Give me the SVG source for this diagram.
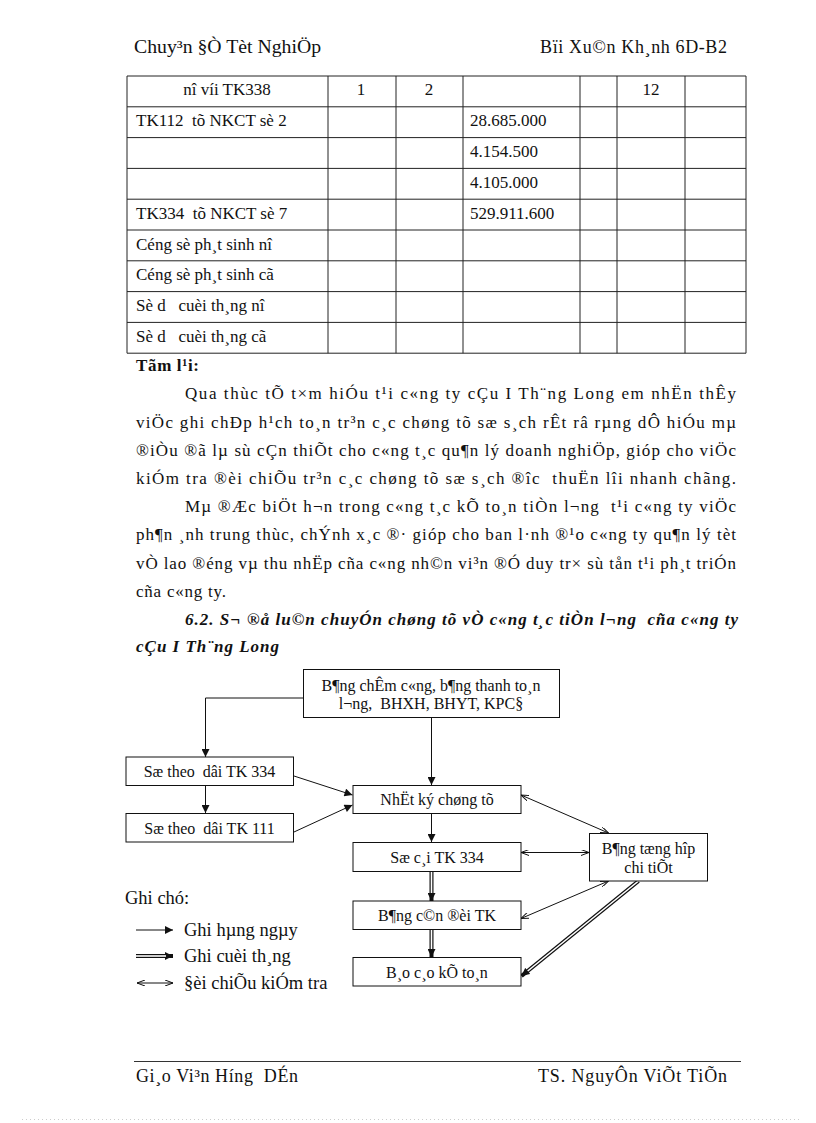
<svg xmlns="http://www.w3.org/2000/svg" width="816" height="1123" viewBox="0 0 816 1123">
<style>
text{font-family:"Liberation Serif","Times New Roman",serif;fill:#111}
.b{font-size:17px}
.h{font-size:18px}
.t{font-size:17px}
.d{font-size:16px}
.lg{font-size:18.5px}
.c{text-anchor:middle}
.bold{font-weight:bold}
.bi{font-weight:bold;font-style:italic}
.grid line{stroke:#222;stroke-width:1}
.box{fill:#fff;stroke:#111;stroke-width:1}
.ln{stroke:#111;stroke-width:1;fill:none}
.dbl{stroke:#111;stroke-width:4;fill:none}
.dbw{stroke:#fff;stroke-width:1.6;fill:none}
</style>
<defs>
<marker id="arr" markerUnits="userSpaceOnUse" viewBox="0 0 10 10" refX="10" refY="5" markerWidth="9" markerHeight="8" orient="auto"><path d="M0,0 L10,5 L0,10 z" fill="#111"/></marker>
<marker id="opn" markerUnits="userSpaceOnUse" viewBox="0 0 8 6" refX="8" refY="3" markerWidth="8" markerHeight="6" orient="auto-start-reverse"><path d="M0,0 L8,3 L0,6" fill="none" stroke="#111" stroke-width="1"/></marker>
</defs>
<rect width="816" height="1123" fill="#fff"/>

<g id="header">
<text class="h" x="134" y="53" textLength="187" lengthAdjust="spacingAndGlyphs">Chuy³n §Ò Tèt NghiÖp</text>
<text class="h" x="540" y="53" textLength="187" lengthAdjust="spacing">Bïi Xu©n Kh¸nh 6D-B2</text>
</g>

<g id="table">
<g class="grid">
<line x1="127" y1="76" x2="746" y2="76"/>
<line x1="127" y1="106.8" x2="746" y2="106.8"/>
<line x1="127" y1="137.6" x2="746" y2="137.6"/>
<line x1="127" y1="168.4" x2="746" y2="168.4"/>
<line x1="127" y1="199.2" x2="746" y2="199.2"/>
<line x1="127" y1="230" x2="746" y2="230"/>
<line x1="127" y1="260.8" x2="746" y2="260.8"/>
<line x1="127" y1="291.6" x2="746" y2="291.6"/>
<line x1="127" y1="322.4" x2="746" y2="322.4"/>
<line x1="127" y1="353.2" x2="746" y2="353.2"/>
<line x1="127" y1="76" x2="127" y2="353.2"/>
<line x1="328" y1="76" x2="328" y2="353.2"/>
<line x1="396" y1="76" x2="396" y2="353.2"/>
<line x1="463" y1="76" x2="463" y2="353.2"/>
<line x1="580" y1="76" x2="580" y2="353.2"/>
<line x1="617" y1="76" x2="617" y2="353.2"/>
<line x1="685" y1="76" x2="685" y2="353.2"/>
<line x1="746" y1="76" x2="746" y2="353.2"/>
</g>
<text class="t c" x="227" y="95">nî víi TK338</text>
<text class="t c" x="361" y="95">1</text>
<text class="t c" x="429" y="95">2</text>
<text class="t c" x="651" y="95">12</text>
<text class="t" x="136" y="126" xml:space="preserve">TK112  tõ NKCT sè 2</text>
<text class="t" x="470" y="126">28.685.000</text>
<text class="t" x="470" y="157">4.154.500</text>
<text class="t" x="470" y="188">4.105.000</text>
<text class="t" x="136" y="218.5" xml:space="preserve">TK334  tõ NKCT sè 7</text>
<text class="t" x="470" y="218.5">529.911.600</text>
<text class="t" x="136" y="249.5">Céng sè ph¸t sinh nî</text>
<text class="t" x="136" y="280">Céng sè ph¸t sinh cã</text>
<text class="t" x="136" y="311" xml:space="preserve">Sè d   cuèi th¸ng nî</text>
<text class="t" x="136" y="342" xml:space="preserve">Sè d   cuèi th¸ng cã</text>
</g>

<g id="summary">
<text class="b bold" x="136" y="371" textLength="63" lengthAdjust="spacing">Tãm l¹i:</text>
<text class="b" x="185" y="399" textLength="551" lengthAdjust="spacing">Qua thùc tÕ t×m hiÓu t¹i c«ng ty cÇu I Th¨ng Long em nhËn thÊy</text>
<text class="b" x="136" y="427.5" textLength="600" lengthAdjust="spacing">viÖc ghi chÐp h¹ch to¸n tr³n c¸c chøng tõ sæ s¸ch rÊt râ rµng dÔ hiÓu mµ</text>
<text class="b" x="136" y="455.5" textLength="600" lengthAdjust="spacing">®iÒu ®ã lµ sù cÇn thiÕt cho c«ng t¸c qu¶n lý doanh nghiÖp, gióp cho viÖc</text>
<text class="b" x="136" y="484" textLength="600" lengthAdjust="spacing" xml:space="preserve">kiÓm tra ®èi chiÕu tr³n c¸c chøng tõ sæ s¸ch ®îc  thuËn lîi nhanh chãng.</text>
<text class="b" x="185" y="512" textLength="551" lengthAdjust="spacing" xml:space="preserve">Mµ ®Æc biÖt h¬n trong c«ng t¸c kÕ to¸n tiÒn l¬ng  t¹i c«ng ty viÖc</text>
<text class="b" x="136" y="540" textLength="600" lengthAdjust="spacing">ph¶n ¸nh trung thùc, chÝnh x¸c ®· gióp cho ban l·nh ®¹o c«ng ty qu¶n lý tèt</text>
<text class="b" x="136" y="568.5" textLength="600" lengthAdjust="spacing">vÒ lao ®éng vµ thu nhËp cña c«ng nh©n vi³n ®Ó duy tr× sù tån t¹i ph¸t triÓn</text>
<text class="b" x="136" y="596.5" textLength="90" lengthAdjust="spacing">cña c«ng ty.</text>
</g>

<g id="heading">
<text class="b bi" x="185" y="625" textLength="553" lengthAdjust="spacing" xml:space="preserve">6.2. S¬ ®å lu©n chuyÓn chøng tõ vÒ c«ng t¸c tiÒn l¬ng  cña c«ng ty</text>
<text class="b bi" x="136" y="652" textLength="143" lengthAdjust="spacing">cÇu I Th¨ng Long</text>
</g>

<g id="connectors">
<polyline class="ln" points="303,698 205.5,698 205.5,757" marker-end="url(#arr)"/>
<line class="ln" x1="431.5" y1="717" x2="431.5" y2="785" marker-end="url(#arr)"/>
<line class="ln" x1="205.5" y1="785" x2="205.5" y2="813" marker-end="url(#arr)"/>
<line class="ln" x1="294" y1="776" x2="352.5" y2="795" marker-end="url(#arr)"/>
<line class="ln" x1="294" y1="832" x2="352.5" y2="805" marker-end="url(#arr)"/>
<line class="ln" x1="431.5" y1="813" x2="431.5" y2="842" marker-end="url(#arr)"/>
<line class="dbl" x1="431.5" y1="872" x2="431.5" y2="901" marker-end="url(#arr)"/>
<line class="dbw" x1="431.5" y1="872" x2="431.5" y2="893"/>
<line class="dbl" x1="431.5" y1="929" x2="431.5" y2="957" marker-end="url(#arr)"/>
<line class="dbw" x1="431.5" y1="929" x2="431.5" y2="949"/>
<line class="ln" x1="521" y1="795" x2="608.5" y2="833" marker-start="url(#opn)" marker-end="url(#opn)"/>
<line class="ln" x1="521" y1="852.5" x2="589" y2="852.5" marker-start="url(#opn)" marker-end="url(#opn)"/>
<line class="ln" x1="608.5" y1="881" x2="521" y2="918.5" marker-start="url(#opn)" marker-end="url(#opn)"/>
<line class="dbl" x1="638.5" y1="881" x2="521.5" y2="976" marker-end="url(#arr)"/>
<line class="dbw" x1="638.5" y1="881" x2="527.7" y2="971"/>
</g>

<g id="n-top"><rect class="box" x="303.5" y="669.5" width="256" height="48"/>
<text class="d c" x="431" y="690.5">B¶ng chÊm c«ng, b¶ng thanh to¸n</text>
<text class="d c" x="431" y="708.5" xml:space="preserve">l¬ng,  BHXH, BHYT, KPC§</text></g>
<g id="n-334"><rect class="box" x="126" y="757" width="167.5" height="28.5"/>
<text class="d c" x="209.5" y="776.5" xml:space="preserve">Sæ theo  dâi TK 334</text></g>
<g id="n-111"><rect class="box" x="126" y="813.5" width="167.5" height="28.5"/>
<text class="d c" x="209.5" y="833.5" xml:space="preserve">Sæ theo  dâi TK 111</text></g>
<g id="n-nkct"><rect class="box" x="353" y="785.5" width="168" height="28"/>
<text class="d c" x="437" y="805">NhËt ký chøng tõ</text></g>
<g id="n-socai"><rect class="box" x="353" y="842.5" width="168" height="29"/>
<text class="d c" x="437" y="862.5">Sæ c¸i TK 334</text></g>
<g id="n-cdtk"><rect class="box" x="353" y="901" width="168" height="28.5"/>
<text class="d c" x="437" y="920.5">B¶ng c©n ®èi TK</text></g>
<g id="n-bckt"><rect class="box" x="353" y="957.5" width="168" height="28.5"/>
<text class="d c" x="437" y="977.5">B¸o c¸o kÕ to¸n</text></g>
<g id="n-thct"><rect class="box" x="589.5" y="833.5" width="118" height="47.5"/>
<text class="d c" x="648.5" y="853.5">B¶ng tæng hîp</text>
<text class="d c" x="648.5" y="872.5">chi tiÕt</text></g>

<g id="legend">
<text class="lg" x="125" y="904">Ghi chó:</text>
<line class="ln" x1="136" y1="930" x2="173" y2="930" marker-end="url(#arr)"/>
<text class="lg" x="184" y="935.5">Ghi hµng ngµy</text>
<line class="dbl" x1="136" y1="956" x2="173" y2="956" marker-end="url(#arr)"/>
<line class="dbw" x1="136" y1="956" x2="166" y2="956"/>
<text class="lg" x="184" y="962">Ghi cuèi th¸ng</text>
<line class="ln" x1="137" y1="983" x2="173" y2="983" marker-start="url(#opn)" marker-end="url(#opn)"/>
<text class="lg" x="184" y="988.5">§èi chiÕu kiÓm tra</text>
</g>

<g id="footer">
<line x1="134" y1="1061.5" x2="741" y2="1061.5" stroke="#333" stroke-width="1"/>
<text class="h" x="136" y="1082" xml:space="preserve" textLength="162" lengthAdjust="spacing">Gi¸o Vi³n Híng  DÉn</text>
<text class="h" x="538" y="1082" textLength="189" lengthAdjust="spacing">TS. NguyÔn ViÕt TiÕn</text>
<line x1="22" y1="1119.5" x2="800" y2="1119.5" stroke="#ccc" stroke-width="1" stroke-dasharray="1,3"/>
</g>
</svg>
